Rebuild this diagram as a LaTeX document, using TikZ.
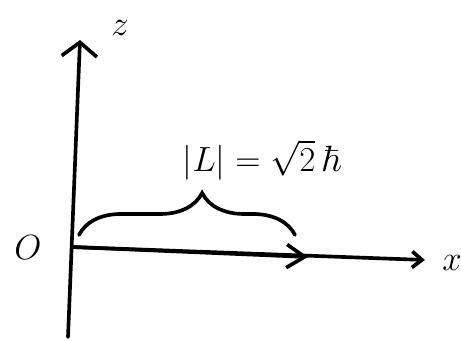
\documentclass[tikz,border=0pt]{standalone}
\usepackage{amsmath, amssymb}
\usepackage{tikz}
\usetikzlibrary{arrows.meta, positioning, decorations.pathreplacing}

\begin{document}
\begin{tikzpicture}[x=0.025cm, y=0.025cm, line width=2.6pt, line cap=round,
		lbl/.style={font=\fontsize{26}{30}\selectfont, inner sep=0pt}]
			\useasboundingbox (0,0) rectangle (461,341);

			% Puntos de los ejes
			\coordinate (o) at (72,94);
			\coordinate (zbot) at (68,4);
			\coordinate (ztop) at (80,301);
			\coordinate (xend) at (425,81);
			\coordinate (lend) at (308,84);

			% Eje z
			\draw[-{Straight Barb[length=3.5mm, width=8.8mm, line width=2.6pt]}] (zbot) -- (ztop);

			% Eje x
			\draw[-{Straight Barb[length=2.5mm, width=4mm, line width=2.6pt]}] (o) -- (xend);

			% Vector L
			\draw[-{Straight Barb[length=4.5mm, width=5.8mm, line width=2.6pt]}] (o) -- (lend);

			% Llave
			\coordinate (bl) at (79,106);
			\coordinate (br) at (295,106);
			\draw[decorate, decoration={brace, amplitude=1.05cm, aspect=0.57}] (bl) -- (br);

			\node[lbl] (zlab) at (120,313) {$z$};
			\node[lbl] (xlab) at (452,78) {$x$};
			\node[lbl] (olab) at (28,93) {$O$};
			\node[lbl] (llab) at (262,181) {$|L| = \sqrt{2}\,\hbar$};
		\end{tikzpicture}
\end{document}
